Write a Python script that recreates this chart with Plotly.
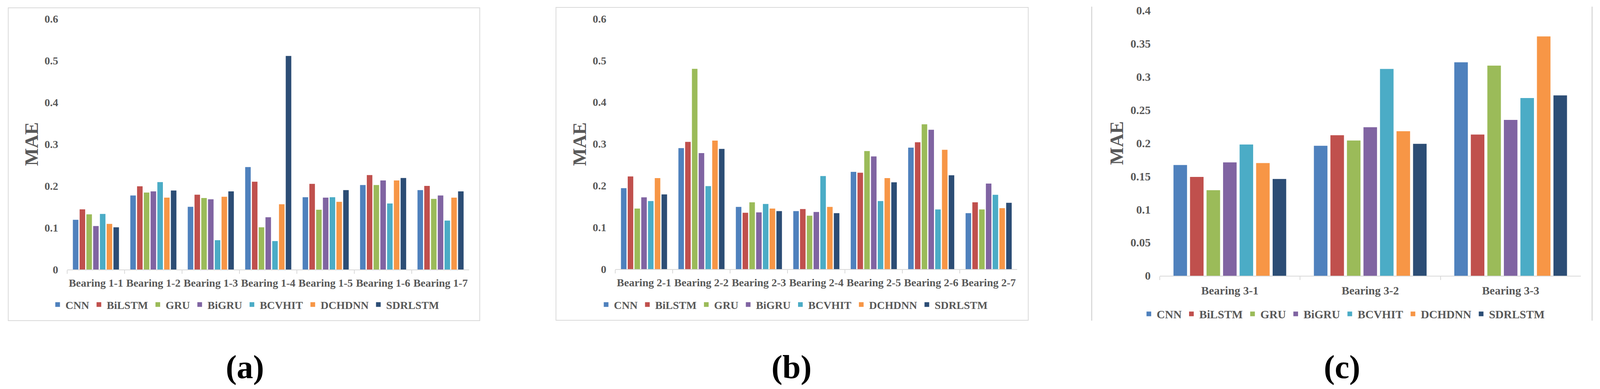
import plotly.graph_objects as go

models = ["CNN", "BiLSTM", "GRU", "BiGRU", "BCVHIT", "DCHDNN", "SDRLSTM"]
colors = ["#4F81BD", "#C0504D", "#9BBB59", "#8064A2", "#4BACC6", "#F79646", "#2C4D75"]

cats_a = ["Bearing 1-1", "Bearing 1-2", "Bearing 1-3", "Bearing 1-4", "Bearing 1-5", "Bearing 1-6", "Bearing 1-7"]
cats_b = ["Bearing 2-1", "Bearing 2-2", "Bearing 2-3", "Bearing 2-4", "Bearing 2-5", "Bearing 2-6", "Bearing 2-7"]
cats_c = ["Bearing 3-1", "Bearing 3-2", "Bearing 3-3"]

# MAE values per model (order follows cats)
cnn_a     = [0.119, 0.177, 0.150, 0.245, 0.173, 0.202, 0.190]
bilstm_a  = [0.144, 0.199, 0.179, 0.210, 0.205, 0.226, 0.200]
gru_a     = [0.132, 0.184, 0.171, 0.101, 0.143, 0.202, 0.169]
bigru_a   = [0.104, 0.187, 0.168, 0.125, 0.172, 0.213, 0.177]
bcvhit_a  = [0.133, 0.209, 0.070, 0.068, 0.173, 0.158, 0.117]
dchdnn_a  = [0.109, 0.172, 0.174, 0.156, 0.162, 0.213, 0.172]
sdrlstm_a = [0.101, 0.189, 0.187, 0.511, 0.190, 0.219, 0.187]

cnn_b     = [0.194, 0.290, 0.149, 0.139, 0.233, 0.291, 0.134]
bilstm_b  = [0.222, 0.305, 0.135, 0.144, 0.231, 0.304, 0.160]
gru_b     = [0.145, 0.480, 0.160, 0.128, 0.283, 0.347, 0.143]
bigru_b   = [0.172, 0.278, 0.136, 0.137, 0.270, 0.334, 0.205]
bcvhit_b  = [0.163, 0.199, 0.156, 0.223, 0.163, 0.143, 0.178]
dchdnn_b  = [0.218, 0.308, 0.145, 0.149, 0.218, 0.286, 0.146]
sdrlstm_b = [0.179, 0.288, 0.139, 0.134, 0.208, 0.225, 0.159]

cnn_c     = [0.167, 0.196, 0.322]
bilstm_c  = [0.149, 0.212, 0.213]
gru_c     = [0.129, 0.204, 0.317]
bigru_c   = [0.171, 0.224, 0.235]
bcvhit_c  = [0.198, 0.312, 0.268]
dchdnn_c  = [0.170, 0.218, 0.361]
sdrlstm_c = [0.146, 0.199, 0.272]

series_a = [cnn_a, bilstm_a, gru_a, bigru_a, bcvhit_a, dchdnn_a, sdrlstm_a]
series_b = [cnn_b, bilstm_b, gru_b, bigru_b, bcvhit_b, dchdnn_b, sdrlstm_b]
series_c = [cnn_c, bilstm_c, gru_c, bigru_c, bcvhit_c, dchdnn_c, sdrlstm_c]

W, H = 4262, 996
FONT = "Liberation Serif"
GRAY = "#595959"
LINE = "#D9D9D9"

def px(x):
    return x / W

def py(y):
    return 1 - y / H

fig = go.Figure()

panels = [
    ("x", "y", "legend", cats_a, series_a),
    ("x2", "y2", "legend2", cats_b, series_b),
    ("x3", "y3", "legend3", cats_c, series_c),
]
for xa, ya, lg, cats, series in panels:
    for name, col, vals in zip(models, colors, series):
        fig.add_trace(go.Bar(x=cats, y=vals, name=name, marker=dict(color=col, line=dict(width=0)),
                             xaxis=xa, yaxis=ya, legend=lg))

def tfont(size):
    return dict(family=FONT, size=size, color=GRAY, weight="bold")

def xaxis(domain, anchor, standoff, fs):
    return dict(domain=domain, anchor=anchor, showline=True, linecolor=LINE, linewidth=2,
                ticks="outside", tickson="boundaries", ticklen=9, tickcolor=LINE, tickwidth=2,
                showgrid=False, zeroline=False, tickfont=tfont(fs), ticklabelstandoff=standoff,
                tickangle=0, fixedrange=True, automargin=False)

def yaxis(domain, anchor, rng, dtick, fs):
    return dict(domain=domain, anchor=anchor, range=rng, dtick=dtick, showline=False,
                showgrid=False, zeroline=False, ticks="", tickfont=tfont(fs),
                ticklabelstandoff=22, fixedrange=True, automargin=False)

def legend(x, y, fs):
    return dict(x=x, y=y, orientation="h", xanchor="center", yanchor="middle",
                font=tfont(fs), bgcolor="rgba(0,0,0,0)", tracegroupgap=0, itemclick=False)

fig.update_layout(
    autosize=True,
    margin=dict(l=0, r=0, t=0, b=0, pad=0),
    paper_bgcolor="white", plot_bgcolor="white",
    barmode="group", bargap=0.176, bargroupgap=0.18,
    xaxis=xaxis([px(179), px(1250)], "y", 8, 28),
    yaxis=yaxis([py(690), py(48)], "x", [0, 0.6], 0.1, 28),
    xaxis2=xaxis([px(1639), px(2710)], "y2", 8, 28),
    yaxis2=yaxis([py(689), py(48)], "x2", [0, 0.6], 0.1, 28),
    xaxis3=xaxis([px(3089), px(4211)], "y3", 11, 29.5),
    yaxis3=yaxis([py(706), py(27)], "x3", [0, 0.4], 0.05, 29.5),
    legend=legend(px(654), py(780), 28),
    legend2=legend(px(2115), py(780), 28),
    legend3=legend(px(3580), py(804), 29.5),
    showlegend=True,
)

# chart-area frames
fig.add_shape(type="rect", xref="paper", yref="paper", x0=px(22), x1=px(1278), y0=py(821), y1=py(20),
              line=dict(color=LINE, width=2))
fig.add_shape(type="rect", xref="paper", yref="paper", x0=px(1481), x1=px(2739), y0=py(820), y1=py(19),
              line=dict(color=LINE, width=2))
fig.add_shape(type="line", xref="paper", yref="paper", x0=px(2908), x1=px(2908), y0=py(821), y1=py(17),
              line=dict(color=LINE, width=3))
fig.add_shape(type="line", xref="paper", yref="paper", x0=px(4241), x1=px(4241), y0=py(821), y1=py(17),
              line=dict(color=LINE, width=3))

# y-axis titles
for xc, yc in [(84, 369), (1544, 369), (2974, 366)]:
    fig.add_annotation(text="MAE", xref="paper", yref="paper", x=px(xc), y=py(yc), showarrow=False,
                       textangle=-90, xanchor="center", yanchor="middle",
                       font=dict(family=FONT, size=48, color=GRAY, weight="bold"))

# panel labels
for lbl, xc in [("(a)", 652), ("(b)", 2109), ("(c)", 3575)]:
    fig.add_annotation(text=lbl, xref="paper", yref="paper", x=px(xc), y=py(940), showarrow=False,
                       xanchor="center", yanchor="middle",
                       font=dict(family=FONT, size=84, color="black", weight="bold"))

post = ("document.documentElement.style.margin='0';document.body.style.margin='0';"
        "document.documentElement.style.overflow='hidden';document.body.style.overflow='hidden';"
        "var gd=document.getElementById('{plot_id}');Plotly.Plots.resize(gd);")

fig.write_html("out.html", default_width="100vw", default_height="100vh", post_script=post,
               config={"displayModeBar": False})
